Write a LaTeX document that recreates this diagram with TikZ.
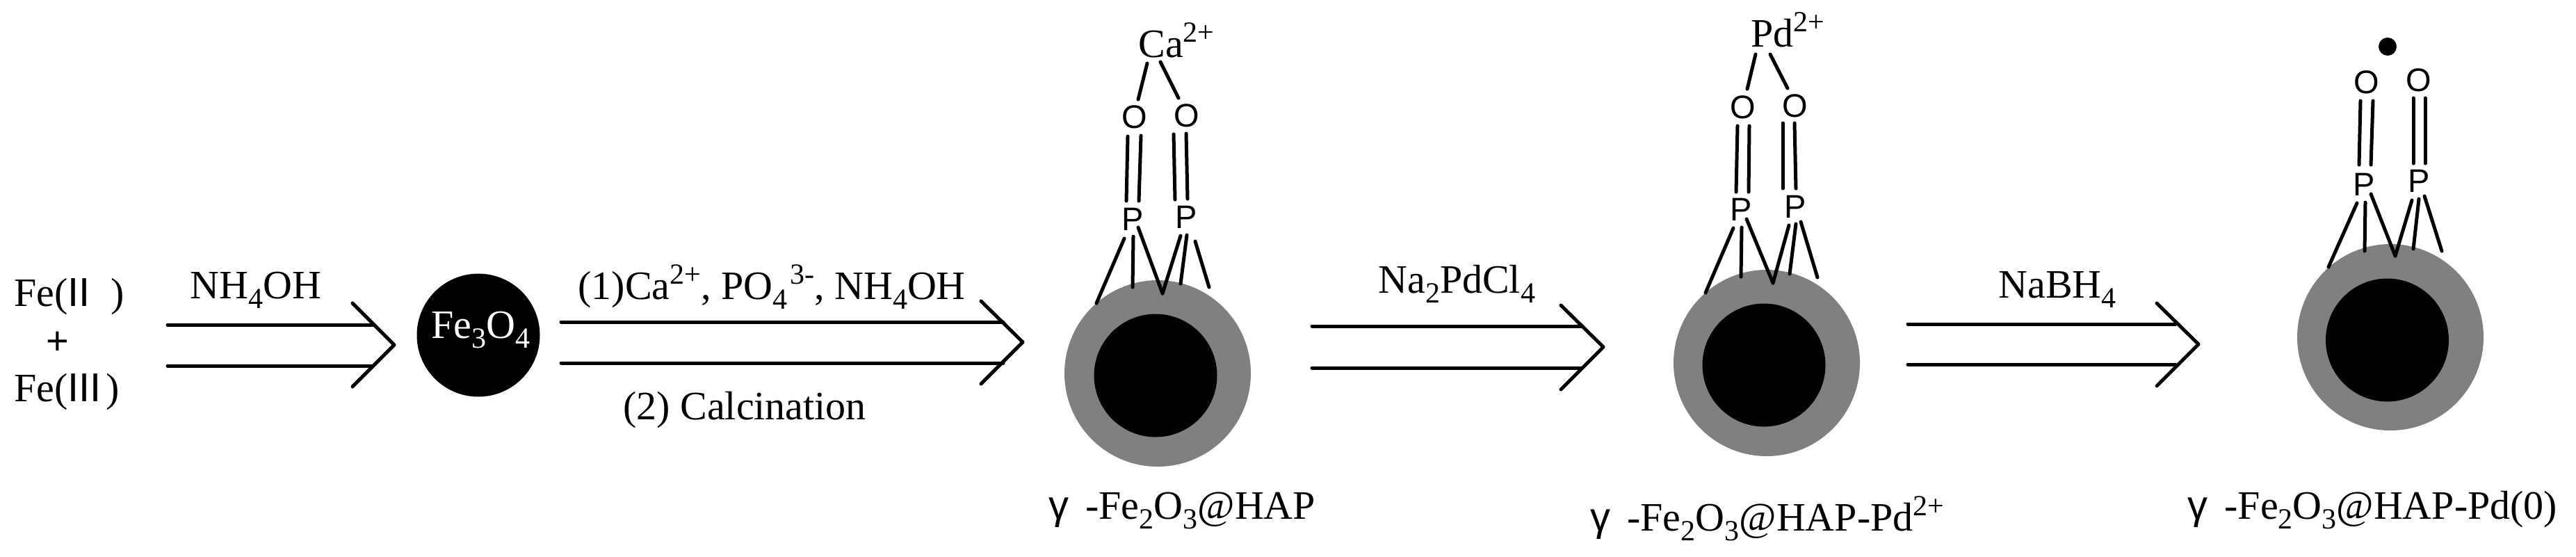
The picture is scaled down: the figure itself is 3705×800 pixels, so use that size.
\documentclass[tikz,border=0pt]{standalone}
\usepackage{fontspec}
\setmainfont{Liberation Serif}
\newfontfamily\sansf{Liberation Sans}
\newcommand{\dn}[1]{\raisebox{-7pt}{\fontsize{21}{23}\selectfont #1}}
\newcommand{\up}[1]{\raisebox{11pt}{\fontsize{21}{23}\selectfont #1}}
\newcommand{\gam}{{\sansf γ}\hspace{12pt}}
\tikzset{
  x=0.5pt,y=-0.5pt,
  txt/.style={anchor=base west,inner sep=0pt,font=\fontsize{29}{31}\selectfont},
  atom/.style={anchor=center,inner sep=0pt,font=\sansf\fontsize{23.5}{25}\selectfont},
  bond/.style={line width=2.5pt,line cap=round,line join=round},
  outer/.style={circle,fill=shell,inner sep=0pt,minimum size=134pt},
  core/.style={circle,fill=black,inner sep=0pt,minimum size=88.5pt}
}
\definecolor{shell}{HTML}{808080}
\begin{document}
\begin{tikzpicture}
\useasboundingbox (0,0) rectangle (3705,800);
% left reactants
\node[txt] (fe2) at (20,440) {Fe({\sansf II}\hspace{15pt})};
\node[txt,anchor=center,font=\sansf\fontsize{28}{30}\selectfont] (plus) at (83,493) {+};
\node[txt] (fe3) at (20,577) {Fe({\sansf III}\hspace{3pt})};
% double arrows
\foreach \n/\xa/\xb/\ya/\yb/\hx/\hu/\hd/\tx/\ty in {
  A/241/536/467/526/507/436/556/567/496,
  B/807/1443/463/522/1411/433/552/1471/492,
  C/1887/2274/469/529/2245/439/560/2306/499,
  D/2744/3129/466/524/3102/436/555/3162/495}{
  \coordinate (\n s1) at (\xa,\ya); \coordinate (\n e1) at (\xb,\ya);
  \coordinate (\n s2) at (\xa,\yb); \coordinate (\n e2) at (\xb,\yb);
  \coordinate (\n hu) at (\hx,\hu); \coordinate (\n hd) at (\hx,\hd);
  \coordinate (\n tip) at (\tx,\ty);
  \draw[bond] (\n s1) -- (\n e1);
  \draw[bond] (\n s2) -- (\n e2);
  \draw[bond] (\n hu) -- (\n tip) -- (\n hd);
}
% arrow labels
\node[txt] (r1) at (273,429) {NH\dn{4}OH};
\node[txt] (r2) at (831,430) {(1)Ca\up{2+}, PO\dn{4}\hspace{2pt}\up{3-}, NH\dn{4}OH};
\node[txt] (r3) at (896,603) {(2) Calcination};
\node[txt] (r4) at (1982,421) {Na\dn{2}PdCl\dn{4}};
\node[txt] (r5) at (2874,428) {NaBH\dn{4}};
% Fe3O4
\node[core] (magnetite) at (688,482) {};
\node[txt,text=white] (magnetitelabel) at (620,486) {Fe\dn{3}O\dn{4}};
% particles
\node[outer] (p1) at (1665,537) {};
\node[core] (c1) at (1662,540) {};
\node[outer] (p2) at (2541,522) {};
\node[core] (c2) at (2537,525) {};
\node[outer] (p3) at (3438,485) {};
\node[core] (c3) at (3433.5,489) {};
% top species
\node[txt] (ca) at (1637,82) {Ca\up{2+}};
\node[txt] (pd) at (2518,67) {Pd\up{2+}};
\node[circle,fill=black,inner sep=0pt,minimum size=13pt] (pd0) at (3434,67) {};
% atoms
\foreach \n/\px/\py/\t in {
  oa/1632/168/O, ob/1707/166/O, pa/1629/315/P, pb/1706/312/P,
  oc/2507/154/O, od/2582/152/O, pc/2504/301/P, pd/2582/297/P,
  oe/3404/118/O, of/3479/115/O, pe/3400/265/P, pf/3479/260/P}{
  \node[atom] (\n) at (\px,\py) {\t};
}
% bonds
\foreach \n/\xa/\ya/\xb/\yb in {
  a1/1650/91/1637/143, a2/1669/89/1695/141,
  a3/1622/196/1620/289, a4/1641/195/1638/289, a5/1688/193/1690/287, a6/1706/192/1708/286,
  a7/1617/343/1577/436, a8/1630/340/1629/413, a9/1637/327/1672/422,
  a10/1698/339/1672/422, a11/1707/338/1698/408, a12/1719/347/1739/413,
  c1/2525/78/2513/128, c2/2546/78/2571/127,
  c3/2499/181/2497/276, c4/2516/181/2515/276, c5/2564/177/2564/271, c6/2581/177/2583/271,
  c7/2493/328/2453/421, c8/2505/327/2504/398, c9/2512/315/2550/407,
  c10/2573/324/2550/407, c11/2583/322/2574/394, c12/2590/319/2614/399,
  e3/3395/145/3393/237, e4/3413/145/3410/237, e5/3471/141/3471/235, e6/3488/141/3488/235,
  e7/3390/292/3349/384, e8/3402/291/3401/361, e9/3410/279/3445/368,
  e10/3469/288/3445/368, e11/3479/286/3471/358, e12/3487/282/3512/361}{
  \coordinate (bs\n) at (\xa,\ya);
  \coordinate (be\n) at (\xb,\yb);
  \draw[bond] (bs\n) -- (be\n);
}
% captions
\node[txt] (l1) at (1508,746) {\gam-Fe\dn{2}O\dn{3}@HAP};
\node[txt] (l2) at (2287,763) {\gam-Fe\dn{2}O\dn{3}@HAP-Pd\up{2+}};
\node[txt] (l3) at (3146,746) {\gam-Fe\dn{2}O\dn{3}@HAP-Pd(0)};
\end{tikzpicture}
\end{document}
